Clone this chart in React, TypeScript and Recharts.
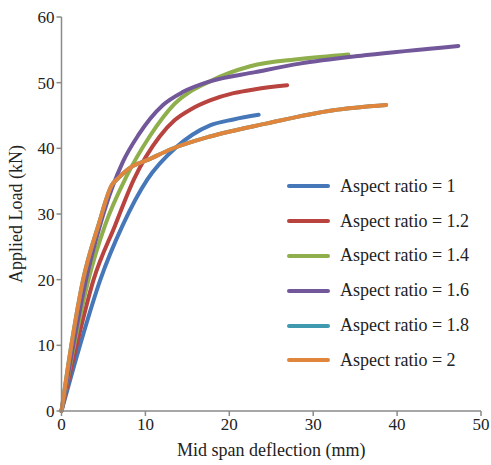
import React from 'react';
import { LineChart, Line, XAxis, YAxis, Label } from 'recharts';

// deflection (mm), load (kN)
const ratio1 = [
  { x: 0, y: 0 }, { x: 2.2, y: 10 }, { x: 4.6, y: 19.9 }, { x: 7.3, y: 28.3 }, { x: 10.2, y: 35.2 },
  { x: 13.7, y: 40.2 }, { x: 17.7, y: 43.5 }, { x: 20.5, y: 44.4 }, { x: 23.5, y: 45.1 },
];
const ratio12 = [
  { x: 0, y: 0 }, { x: 1.8, y: 10 }, { x: 3.8, y: 19.9 }, { x: 6.4, y: 28.3 }, { x: 8.6, y: 35.2 },
  { x: 11.7, y: 41.8 }, { x: 13.5, y: 44.3 }, { x: 15.5, y: 46 }, { x: 17.7, y: 47.3 },
  { x: 20.5, y: 48.4 }, { x: 23.1, y: 49 }, { x: 26.9, y: 49.6 },
];
const ratio14 = [
  { x: 0, y: 0 }, { x: 1.5, y: 10 }, { x: 3.2, y: 19.9 }, { x: 5.2, y: 28.3 }, { x: 7.7, y: 35.6 },
  { x: 10.5, y: 41.8 }, { x: 13.5, y: 46.8 }, { x: 17.7, y: 50.2 }, { x: 22.5, y: 52.5 },
  { x: 28.4, y: 53.6 }, { x: 34.2, y: 54.3 },
];
const ratio16 = [
  { x: 0, y: 0 }, { x: 1.4, y: 10 }, { x: 2.9, y: 19.9 }, { x: 4.6, y: 28.3 }, { x: 6.1, y: 34.2 },
  { x: 7.3, y: 37.9 }, { x: 9.15, y: 42.0 }, { x: 12.1, y: 46.6 }, { x: 14.5, y: 48.6 },
  { x: 17.7, y: 50.2 }, { x: 23.1, y: 51.6 }, { x: 28.4, y: 52.9 }, { x: 36.4, y: 54.2 },
  { x: 47.3, y: 55.6 },
];
const ratio18 = [
  { x: 0, y: 0 }, { x: 1.17, y: 10 }, { x: 2.56, y: 19.9 }, { x: 4.4, y: 28.3 }, { x: 6.0, y: 34.4 },
  { x: 6.8, y: 35.5 }, { x: 8.5, y: 37.3 }, { x: 10.2, y: 38.2 }, { x: 13.1, y: 39.9 },
  { x: 17.7, y: 41.8 }, { x: 24.5, y: 43.8 }, { x: 32.4, y: 45.8 }, { x: 38.7, y: 46.6 },
];
const ratio2 = [
  { x: 0, y: 0 }, { x: 1.17, y: 10 }, { x: 2.56, y: 19.9 }, { x: 4.4, y: 28.3 }, { x: 6.0, y: 34.4 },
  { x: 6.8, y: 35.5 }, { x: 8.5, y: 37.3 }, { x: 10.2, y: 38.2 }, { x: 13.1, y: 39.9 },
  { x: 17.7, y: 41.8 }, { x: 24.5, y: 43.8 }, { x: 32.4, y: 45.8 }, { x: 38.7, y: 46.6 },
];

const xTicks = [0, 10, 20, 30, 40, 50];
const yTicks = [0, 10, 20, 30, 40, 50, 60];

const series = [
  { name: 'Aspect ratio = 1', data: ratio1, color: '#4677B8' },
  { name: 'Aspect ratio = 1.2', data: ratio12, color: '#B8433F' },
  { name: 'Aspect ratio = 1.4', data: ratio14, color: '#8FAE4C' },
  { name: 'Aspect ratio = 1.6', data: ratio16, color: '#72589A' },
  { name: 'Aspect ratio = 1.8', data: ratio18, color: '#3F9AB0' },
  { name: 'Aspect ratio = 2', data: ratio2, color: '#E0853C' },
];

const font = "'Times New Roman', 'Liberation Serif', 'DejaVu Serif', serif";
const axisColor = '#8a8a8a';

const LegendBox = () => (
  <div style={{ position: 'absolute', left: 287, top: 169, fontFamily: font, fontSize: 18, color: '#222' }}>
    {series.map((s) => (
      <div key={s.name} style={{ display: 'flex', alignItems: 'center', height: 34.8 }}>
        <div style={{ width: 43, height: 4, borderRadius: 2, background: s.color, marginRight: 10 }} />
        <span>{s.name}</span>
      </div>
    ))}
  </div>
);

export default function App() {
  return (
    <div style={{ position: 'absolute', left: 0, top: 0, width: 491, height: 465, background: '#fff' }}>
      <LineChart width={491} height={465} margin={{ top: 17, right: 10, bottom: 24, left: 16 }}>
        <XAxis
          type="number"
          dataKey="x"
          domain={[0, 50]}
          ticks={xTicks}
          allowDuplicatedCategory={false}
          stroke={axisColor}
          strokeWidth={1.5}
          tickSize={5}
          height={30}
          tick={{ fill: '#222', fontSize: 17, fontFamily: font }}
        >
          <Label value="Mid span deflection (mm)" position="bottom" offset={2}
            style={{ fill: '#222', fontSize: 18, fontFamily: font }} />
        </XAxis>
        <YAxis
          type="number"
          dataKey="y"
          domain={[0, 60]}
          ticks={yTicks}
          stroke={axisColor}
          strokeWidth={1.5}
          tickSize={5}
          width={45.5}
          tick={{ fill: '#222', fontSize: 17, fontFamily: font }}
        >
          <Label value="Applied Load (kN)" angle={-90} position="insideLeft" offset={0}
            style={{ fill: '#222', fontSize: 18, fontFamily: font, textAnchor: 'middle' }} />
        </YAxis>
        {series.map((s) => (
          <Line
            key={s.name}
            data={s.data}
            dataKey="y"
            name={s.name}
            type="monotone"
            stroke={s.color}
            strokeWidth={4}
            strokeLinecap="round"
            dot={false}
            isAnimationActive={false}
          />
        ))}
      </LineChart>
      <LegendBox />
    </div>
  );
}
